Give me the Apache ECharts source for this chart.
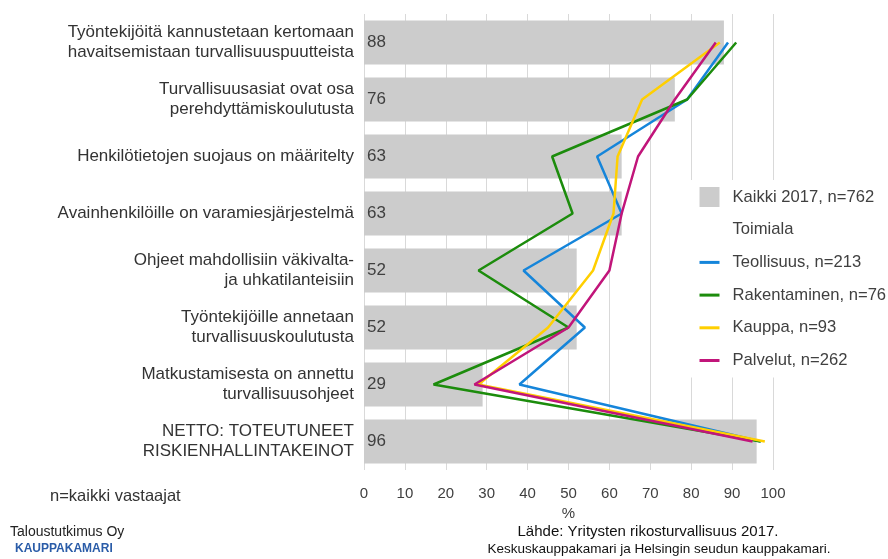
<!DOCTYPE html>
<html><head><meta charset="utf-8">
<script src="https://cdn.jsdelivr.net/npm/echarts@6/dist/echarts.min.js"></script>
<style>html,body{margin:0;padding:0;background:#fff}#c{width:888px;height:559px}</style>
</head><body><div id="c"></div>
<script>
var categories = [
  "Työntekijöitä kannustetaan kertomaan\nhavaitsemistaan turvallisuuspuutteista",
  "Turvallisuusasiat ovat osa\nperehdyttämiskoulutusta",
  "Henkilötietojen suojaus on määritelty",
  "Avainhenkilöille on varamiesjärjestelmä",
  "Ohjeet mahdollisiin väkivalta-\nja uhkatilanteisiin",
  "Työntekijöille annetaan\nturvallisuuskoulutusta",
  "Matkustamisesta on annettu\nturvallisuusohjeet",
  "NETTO: TOTEUTUNEET\nRISKIENHALLINTAKEINOT"
];
var kaikki = [88, 76, 63, 63, 52, 52, 29, 96];
var teollisuus = [89, 79, 57, 63, 39, 54, 38, 97];
var rakentaminen = [91, 79, 46, 51, 28, 50, 17, 97];
var kauppa = [87, 68, 62, 61, 56, 45, 28, 98];
var palvelut = [86, 76, 67, 63, 60, 50, 27, 95];
var xTicks = { min: 0, max: 100, interval: 10 };

var font = "Liberation Sans, Arial, sans-serif";
var narrow = "Liberation Sans Narrow, Liberation Sans, Arial, sans-serif";

function lineSeries(name, data, color) {
  return {
    name: name, type: 'line', data: data, symbol: 'none', z: 5,
    lineStyle: { color: color, width: 2.5 }, itemStyle: { color: color }
  };
}
function lineLegend(name) {
  return { name: name, itemStyle: { opacity: 0 }, lineStyle: { width: 3 } };
}

var chart = echarts.init(document.getElementById('c'), null, { renderer: 'canvas' });
chart.setOption({
  animation: false,
  backgroundColor: '#fff',
  textStyle: { fontFamily: font },
  grid: { left: 364, right: 115, top: 14, bottom: 89, containLabel: false },
  xAxis: {
    type: 'value', min: xTicks.min, max: xTicks.max, interval: xTicks.interval,
    name: '%', nameLocation: 'middle', nameGap: 35,
    nameTextStyle: { color: '#404040', fontSize: 15, fontFamily: narrow },
    axisLine: { show: false }, axisTick: { show: false },
    axisLabel: { color: '#404040', fontSize: 15, margin: 16, fontFamily: narrow },
    splitLine: { show: true, lineStyle: { color: '#d9d9d9', width: 1 } }
  },
  yAxis: {
    type: 'category', data: categories, inverse: true,
    axisLine: { show: false }, axisTick: { show: false },
    axisLabel: { color: '#333', fontSize: 17, lineHeight: 20, margin: 10, align: 'right' },
    splitLine: { show: false }
  },
  legend: {
    orient: 'vertical', left: 688, top: 180,
    padding: [7, 10, 7, 10], backgroundColor: '#fff',
    itemWidth: 20, itemHeight: 20, itemGap: 12.7,
    textStyle: { color: '#404040', fontSize: 16.6, lineHeight: 20, padding: [0, 0, 0, 8] },
    data: [
      { name: 'Kaikki 2017, n=762', icon: 'rect' },
      { name: 'Toimiala', icon: 'rect', itemStyle: { color: 'rgba(0,0,0,0)', opacity: 0 } },
      lineLegend('Teollisuus, n=213'), lineLegend('Rakentaminen, n=76'),
      lineLegend('Kauppa, n=93'), lineLegend('Palvelut, n=262')
    ]
  },
  series: [
    {
      name: 'Kaikki 2017, n=762', type: 'bar', data: kaikki, barCategoryGap: '23%',
      itemStyle: { color: '#cccccc' }, z: 2,
      label: { show: true, position: 'insideLeft', distance: 3, color: '#404040', fontSize: 17 }
    },
    { name: 'Toimiala', type: 'line', data: [], itemStyle: { color: 'rgba(0,0,0,0)' }, lineStyle: { color: 'rgba(0,0,0,0)' } },
    lineSeries('Teollisuus, n=213', teollisuus, '#1585da'),
    lineSeries('Rakentaminen, n=76', rakentaminen, '#1c8c0c'),
    lineSeries('Kauppa, n=93', kauppa, '#ffcf00'),
    lineSeries('Palvelut, n=262', palvelut, '#c1157a')
  ],
  graphic: [
    { type: 'text', left: 50, top: 488, style: { text: 'n=kaikki vastaajat', fill: '#333', font: '16.5px ' + font } },
    { type: 'text', left: 10, top: 525, style: { text: 'Taloustutkimus Oy', fill: '#222', font: '14px ' + narrow } },
    { type: 'text', left: 15, top: 543, style: { text: 'KAUPPAKAMARI', fill: '#2a5ca8', font: 'bold 12px ' + narrow } },
    { type: 'text', x: 648, y: 524, style: { text: 'Lähde: Yritysten rikosturvallisuus 2017.', fill: '#111', font: '15px ' + narrow, textAlign: 'center' } },
    { type: 'text', x: 659, y: 542, style: { text: 'Keskuskauppakamari ja Helsingin seudun kauppakamari.', fill: '#111', font: '13.5px ' + narrow, textAlign: 'center' } }
  ]
});
</script>
</body></html>
